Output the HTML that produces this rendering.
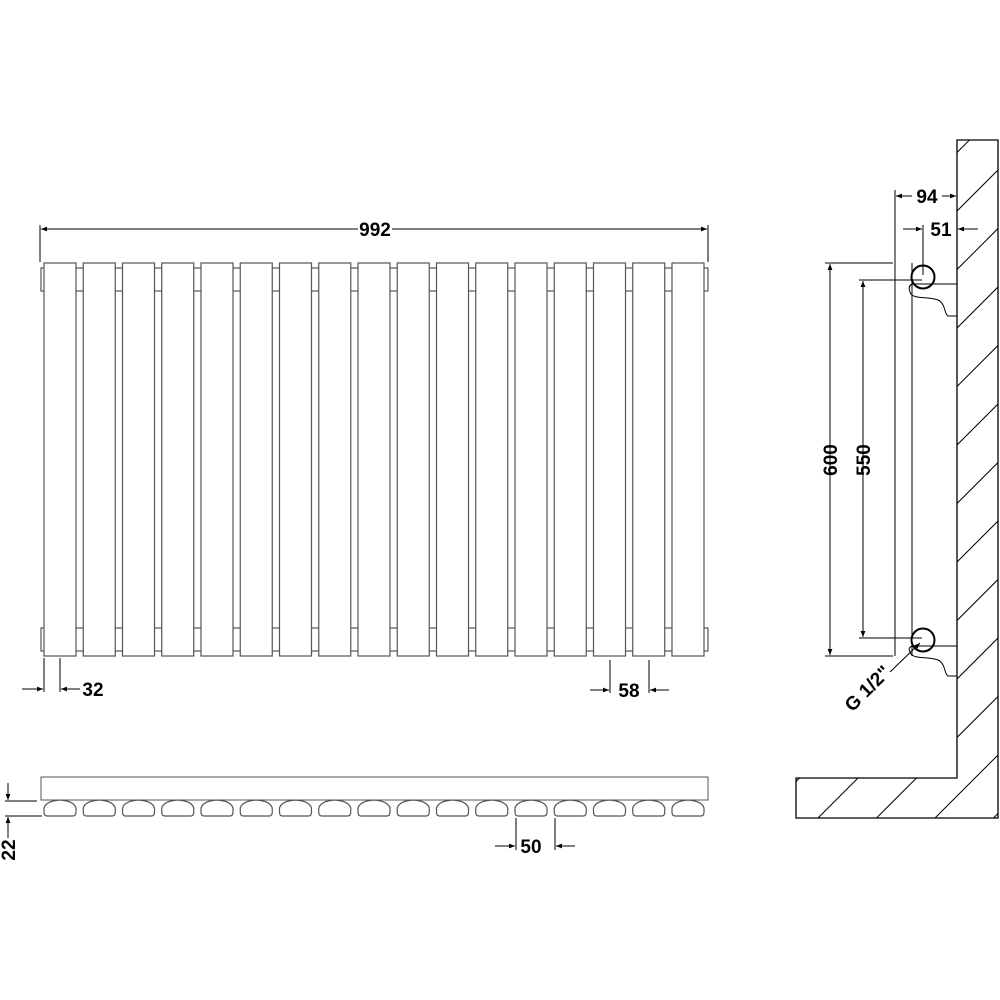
<!DOCTYPE html>
<html><head><meta charset="utf-8"><style>
html,body{margin:0;padding:0;background:#fff;width:1000px;height:1000px;overflow:hidden}
svg{display:block;position:absolute;left:0;top:0}
text{font-family:"Liberation Sans",sans-serif;font-weight:bold;font-size:19px;fill:#000}
</style></head><body>
<svg id="s" width="1000" height="1000" viewBox="0 0 1000 1000" xmlns="http://www.w3.org/2000/svg">
<defs>
<marker id="a" viewBox="0 0 10 10" refX="10" refY="5" markerWidth="9" markerHeight="6" orient="auto-start-reverse" markerUnits="userSpaceOnUse"><path d="M0,1 L10,5 L0,9z" fill="#000"/></marker>
<clipPath id="wc"><path d="M957,140 L998,140 L998,818 L796,818 L796,778 L957,778 Z"/></clipPath>
</defs>
<g id="panels" fill="#fff" stroke="#555" stroke-width="1.2"></g>
<g id="hatch" clip-path="url(#wc)" stroke="#000" stroke-width="1"></g>
<g stroke="#000" stroke-width="1" fill="none">
<line x1="40" y1="225" x2="40" y2="262"/><line x1="708" y1="225" x2="708" y2="262"/>
<line x1="41" y1="229" x2="358" y2="229" marker-start="url(#a)"/>
<line x1="392" y1="229" x2="707" y2="229" marker-end="url(#a)"/>
<line x1="44" y1="658" x2="44" y2="692"/><line x1="60" y1="658" x2="60" y2="692"/>
<line x1="22" y1="689" x2="43" y2="689" marker-end="url(#a)"/>
<line x1="80" y1="689" x2="61" y2="689" marker-end="url(#a)"/>
<line x1="610" y1="660" x2="610" y2="693"/><line x1="649" y1="660" x2="649" y2="693"/>
<line x1="590" y1="690" x2="609" y2="690" marker-end="url(#a)"/>
<line x1="669" y1="690" x2="650" y2="690" marker-end="url(#a)"/>
<rect x="41" y="777" width="667" height="23" stroke="#555"/>
<line x1="5" y1="801" x2="37" y2="801"/><line x1="5" y1="816" x2="42" y2="816"/>
<line x1="8" y1="783" x2="8" y2="800" marker-end="url(#a)"/>
<line x1="8" y1="838" x2="8" y2="817" marker-end="url(#a)"/>
<line x1="516" y1="818" x2="516" y2="850"/><line x1="555" y1="818" x2="555" y2="850"/>
<line x1="495" y1="846" x2="515" y2="846" marker-end="url(#a)"/>
<line x1="575" y1="846" x2="556" y2="846" marker-end="url(#a)"/>
<path d="M957,140 L998,140 L998,818 L796,818 L796,778 L957,778 Z" stroke-width="1.3"/>
<line x1="895" y1="190" x2="895" y2="656"/>
<line x1="912" y1="263" x2="912" y2="656"/>
<line x1="825" y1="263" x2="893" y2="263"/>
<line x1="825" y1="656" x2="893" y2="656"/>
<line x1="859" y1="280" x2="922" y2="280"/>
<line x1="859" y1="638" x2="922" y2="638"/>
<line x1="830" y1="648" x2="830" y2="264" marker-end="url(#a)"/>
<line x1="830" y1="420" x2="830" y2="655" marker-end="url(#a)"/>
<line x1="863" y1="630" x2="863" y2="281" marker-end="url(#a)"/>
<line x1="863" y1="400" x2="863" y2="637" marker-end="url(#a)"/>
<circle cx="923" cy="277" r="11.5" stroke-width="2"/>
<circle cx="923" cy="640" r="11.5" stroke-width="2"/>
<path d="M912,284 L957,284 L957,316 L948,316 C944,314 946,304 938,300 C928,296 912,300 910,292 C908,287 910,285 912,284Z"/>
<path d="M912,646 L957,646 L957,676 L948,676 C944,674 946,664 938,660 C928,656 912,660 910,652 C908,648 910,647 912,646Z"/>
<line x1="923" y1="225" x2="923" y2="275"/>
<line x1="896" y1="196" x2="912" y2="196" marker-start="url(#a)"/>
<line x1="942" y1="196" x2="956" y2="196" marker-end="url(#a)"/>
<line x1="903" y1="229" x2="922" y2="229" marker-end="url(#a)"/>
<line x1="978" y1="229" x2="958" y2="229" marker-end="url(#a)"/>
<line x1="890" y1="672" x2="920" y2="643" marker-end="url(#a)"/>
</g>
<text x="375" y="236" text-anchor="middle">992</text>
<text x="93" y="696" text-anchor="middle">32</text>
<text x="629" y="697" text-anchor="middle">58</text>
<text x="531" y="853" text-anchor="middle">50</text>
<text x="927" y="203" text-anchor="middle">94</text>
<text x="941" y="236" text-anchor="middle">51</text>
<text transform="translate(15,850) rotate(-90)" text-anchor="middle">22</text>
<text transform="translate(837,460) rotate(-90)" text-anchor="middle">600</text>
<text transform="translate(870,460) rotate(-90)" text-anchor="middle">550</text>
<text transform="translate(872,693) rotate(-45)" text-anchor="middle">G 1/2"</text>
</svg>
<script>
var g=document.getElementById('panels'),h='';
h+='<rect x="41" y="268" width="667" height="23"/><rect x="41" y="628" width="667" height="23"/>';
for(var i=0;i<17;i++){var x=44+i*39.25;h+='<rect x="'+x+'" y="263" width="32" height="393"/>';}
for(var i=0;i<17;i++){var x=44+i*39.25;h+='<path d="M'+(x+3)+',816 L'+(x+29)+',816 Q'+(x+32)+',816 '+(x+32)+',812 L'+(x+32)+',808 Q'+(x+30)+',801 '+(x+16)+',800 Q'+(x+2)+',801 '+x+',808 L'+x+',812 Q'+x+',816 '+(x+3)+',816Z" fill="none" stroke="#555"/>';}
g.innerHTML=h;
var hh='';for(var k=-20;k<30;k++){var y=211+k*58.5;hh+='<line x1="700" y1="'+(y+257)+'" x2="1000" y2="'+(y-43)+'"/>';}
document.getElementById('hatch').innerHTML=hh;
</script>
</body></html>
